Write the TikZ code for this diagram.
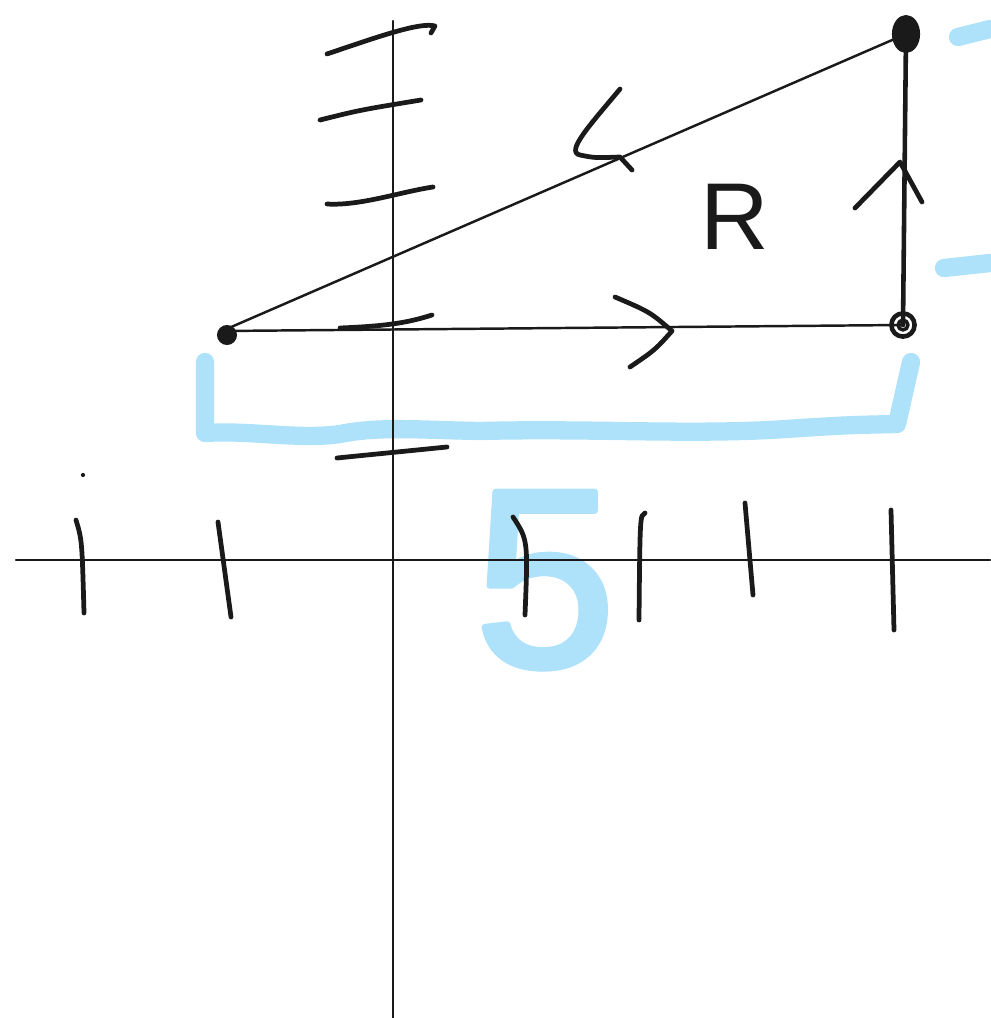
\documentclass[tikz,border=0pt]{standalone}
\usepackage{fontspec}
\newfontfamily\handfont{Liberation Sans}
\newfontfamily\markerfont[FakeBold=2.5]{Liberation Sans}
\definecolor{inkblack}{HTML}{1A1A1A}
\definecolor{hiblue}{HTML}{AEE1FA}
\tikzset{
  thinline/.style={draw=inkblack,line width=0.7pt},
  tickline/.style={draw=inkblack,line width=1.35pt},
  hiliter/.style={draw=hiblue,line width=5.2pt}
}

\begin{document}
\begin{tikzpicture}[x=0.01cm,y=-0.01cm,line cap=round,line join=round]
  \useasboundingbox (0,0) rectangle (990,1018);
  % Blue highlighter marks
  \node[text=hiblue,anchor=base,font=\markerfont\fontsize{72}{72}\selectfont] (five) at (545,666) {5};
  \draw[hiliter] (205,362) -- (205,433) .. controls (250,430) and (300,440) .. (340,434)
    .. controls (380,426) and (420,430) .. (480,431) .. controls (600,428) and (700,436) .. (800,428)
    .. controls (850,425) .. (897,424) -- (911,362);
  \draw[hiliter] (958,37) -- (990,29);
  \draw[hiliter] (944,268) -- (990,263);
  % Axes
  \draw[thinline] (16,560) -- (990,560);
  \draw[thinline] (393,21) -- (393,1018);
  % Ticks
  \draw[tickline] (76,520) .. controls (82,540) .. (84,613);
  \draw[tickline] (218,522) -- (231,617);
  \draw[tickline] (513,517) .. controls (528,540) .. (525,615);
  \draw[tickline] (645,513) .. controls (640,515) .. (639,620);
  \draw[tickline] (745,503) -- (753,595);
  \draw[tickline] (891,510) -- (894,630);
  \draw[tickline] (327,54) .. controls (380,36) and (420,22) .. (435,26) -- (431,33);
  \draw[tickline] (320,120) .. controls (360,110) .. (421,100);
  \draw[tickline] (327,204) .. controls (360,206) and (400,192) .. (433,187);
  \draw[tickline] (340,328) .. controls (390,326) and (410,322) .. (432,315);
  \draw[tickline] (337,458) -- (447,447);
  \fill[inkblack] (83,475) circle (0.6pt);
  % Triangle
  \coordinate (A) at (222,331);
  \coordinate (B) at (903,325);
  \coordinate (C) at (906,34);
  \draw[thinline] (A) -- (B);
  \draw[thinline] (A) -- (C);
  \draw[thinline,line width=1.3pt] (B) -- (C);
  \fill[inkblack] (A) ++(5,4) circle (2.85pt);
  \filldraw[inkblack,line width=1.2pt] (C) ellipse (3.4pt and 4.8pt);
  \draw[inkblack,line width=1.3pt] (B) circle (3.3pt);
  \draw[inkblack,line width=1pt] (B) circle (1.4pt);
  % Direction marks
  \draw[tickline] (615,297) .. controls (650,312) .. (672,331) .. controls (655,350) .. (630,367);
  \draw[tickline] (620,89) .. controls (590,125) and (565,152) .. (580,155)
    .. controls (595,158) .. (620,157) -- (632,170);
  \draw[tickline] (855,208) -- (900,162) -- (922,202);
  % Label
  \node[text=inkblack,anchor=base,font=\handfont\fontsize{27}{27}\selectfont] (rlabel) at (735,249) {R};
\end{tikzpicture}
\end{document}
